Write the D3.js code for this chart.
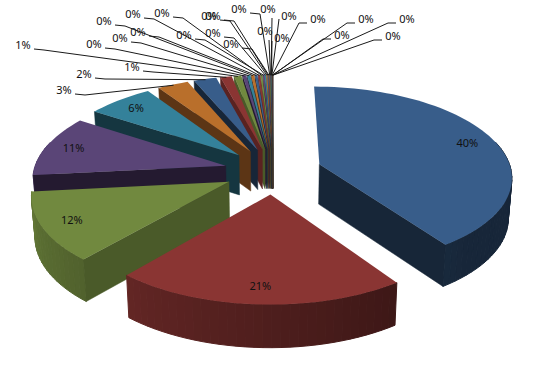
<!DOCTYPE html>
<html>
<head>
<meta charset="utf-8">
<script src="https://cdn.jsdelivr.net/npm/d3@7"></script>
<style>
  html, body { margin: 0; padding: 0; background: #fff; }
  svg { display: block; }
  text { font-family: "Noto Sans", sans-serif; font-size: 11px; fill: #111; }
</style>
</head>
<body>
<div id="chart"></div>
<script>
var bigValues = [40.4, 20.9, 12.1, 10.9, 6.4, 3.0, 2.2, 1.1, 0.7];
var tinyValues = [0.35, 0.32, 0.28, 0.25, 0.2, 0.17, 0.15, 0.12, 0.1, 0.08, 0.07,
                  0.06, 0.05, 0.04, 0.03, 0.03, 0.02, 0.02, 0.01, 0.01, 0.01];
var topColors = ["#385d8a", "#8a3533", "#71893f", "#5a4577", "#34819a", "#b96f2b"];
var sideColors = ["#172638", "#5a2221", "#4a5a29", "#241a30", "#153640", "#5c3515"];

// hand placed label spots (center of text) for the slices with leader lines
var leaderSpots = [[64, 90], [84, 74], [132, 67], [23, 45], [94, 44], [120, 38], [104, 21],
                   [138, 32], [133, 14], [162, 13], [184, 35], [213, 33], [209, 16], [213, 16],
                   [231, 44], [239, 9], [265, 31], [268, 9], [282, 38], [289, 16], [318, 19],
                   [366, 19], [342, 35], [407, 19], [393, 36]];

var width = 536, height = 389;
var cx = 273, cy = 171;
var R = 192, explode = 49, K = 0.465, persp = 0.00067, depth = 40;
var insideCount = 5;

var values = bigValues.concat(tinyValues);
var total = d3.sum(values);
var arcs = d3.pie().sort(null).value(function(d) { return d; })(values);

var svg = d3.select("#chart").append("svg")
  .attr("width", width)
  .attr("height", height);

var line = d3.line();

// world point on the pie plane -> screen, front of the pie is bigger
function project(x, z) {
  var s = 1 / (1 - persp * z);
  return [cx + x * s, cy + K * z * s, s];
}

function topPoint(d, angle, r) {
  var mid = (d.startAngle + d.endAngle) / 2;
  var x = explode * Math.sin(mid) + r * Math.sin(angle);
  var z = -explode * Math.cos(mid) - r * Math.cos(angle);
  return project(x, z);
}

function lower(p) {
  return [cx + (p[0] - cx) * 0.985, p[1] + depth * (0.6 + 0.4 * p[2])];
}

function rimAngles(d) {
  var n = Math.max(2, Math.ceil((d.endAngle - d.startAngle) / 0.04));
  return d3.range(n + 1).map(function(i) {
    return d.startAngle + (d.endAngle - d.startAngle) * i / n;
  });
}

function outerShade(angle) {
  var deg = angle * 180 / Math.PI;
  return Math.max(0.41, 0.44 + 0.0036 * (deg - 145));
}

function scaleColor(c, f) {
  var col = d3.rgb(c);
  return d3.rgb(col.r * f, col.g * f, col.b * f).formatHex();
}

// the rim wall only faces us on the front half of the pie
function wallFacesUs(angle) {
  var deg = angle * 180 / Math.PI;
  return deg > 75 && deg < 285;
}

function drawSlice(d) {
  var c = d.index % 6;
  var g = svg.append("g");
  var apex = topPoint(d, 0, 0);
  var startP = topPoint(d, d.startAngle, R);
  var endP = topPoint(d, d.endAngle, R);
  var angles = rimAngles(d);

  // outer wall in small strips so it picks up the lighting
  for (var i = 0; i < angles.length - 1; i++) {
    var t = (angles[i] + angles[i + 1]) / 2;
    if (!wallFacesUs(t)) continue;
    var a = topPoint(d, angles[i], R);
    var b = topPoint(d, angles[i + 1], R);
    var col = scaleColor(topColors[c], outerShade(t));
    g.append("path")
      .attr("d", line([a, b, lower(b), lower(a)]) + "Z")
      .attr("fill", col)
      .attr("stroke", col)
      .attr("stroke-width", 1);
  }

  // only the cut face turned to the viewer
  var cut = null;
  if (d.index === 0) cut = endP;
  else if (d.index > 1) cut = startP;
  if (cut) {
    g.append("path")
      .attr("d", line([apex, cut, lower(cut), lower(apex)]) + "Z")
      .attr("fill", sideColors[c])
      .attr("stroke", sideColors[c])
      .attr("stroke-width", 0.5);
  }

  var face = [apex].concat(angles.map(function(t) { return topPoint(d, t, R); }));
  g.append("path")
    .attr("d", line(face.map(function(p) { return [p[0], p[1]]; })) + "Z")
    .attr("fill", topColors[c]);
}

// back slices first, the biggest one does not overlap anything
d3.range(arcs.length - 1, -1, -1).forEach(function(i) {
  drawSlice(arcs[i]);
});

function pct(d) {
  return Math.round(d.value / total * 100) + "%";
}

// leader lines
arcs.slice(insideCount).forEach(function(d, i) {
  var spot = leaderSpots[i];
  var mid = (d.startAngle + d.endAngle) / 2;
  var end = topPoint(d, mid, R * 0.99);
  var pts;
  if (spot[0] < 258) {
    pts = [[spot[0] + 11, spot[1] + 4], [spot[0] + 21, spot[1] + 5], end];
  } else if (spot[0] > 295) {
    pts = [[spot[0] - 11, spot[1] + 4], [spot[0] - 19, spot[1] + 4], end];
  } else if (spot[0] > 275) {
    pts = [[spot[0] - 10, spot[1] + 3], end];
  } else {
    pts = [[spot[0] + 4, spot[1] + 9], end];
  }
  svg.append("path")
    .attr("d", line(pts.map(function(p) { return [p[0], p[1]]; })))
    .attr("fill", "none")
    .attr("stroke", "#1a1a1a")
    .attr("stroke-width", 1);
});

// labels
arcs.forEach(function(d, i) {
  var pos;
  if (i < insideCount) {
    pos = topPoint(d, (d.startAngle + d.endAngle) / 2, R * 0.85);
  } else {
    pos = leaderSpots[i - insideCount];
  }
  svg.append("text")
    .attr("x", pos[0])
    .attr("y", pos[1] + 4)
    .attr("text-anchor", "middle")
    .text(pct(d));
});
</script>
</body>
</html>
